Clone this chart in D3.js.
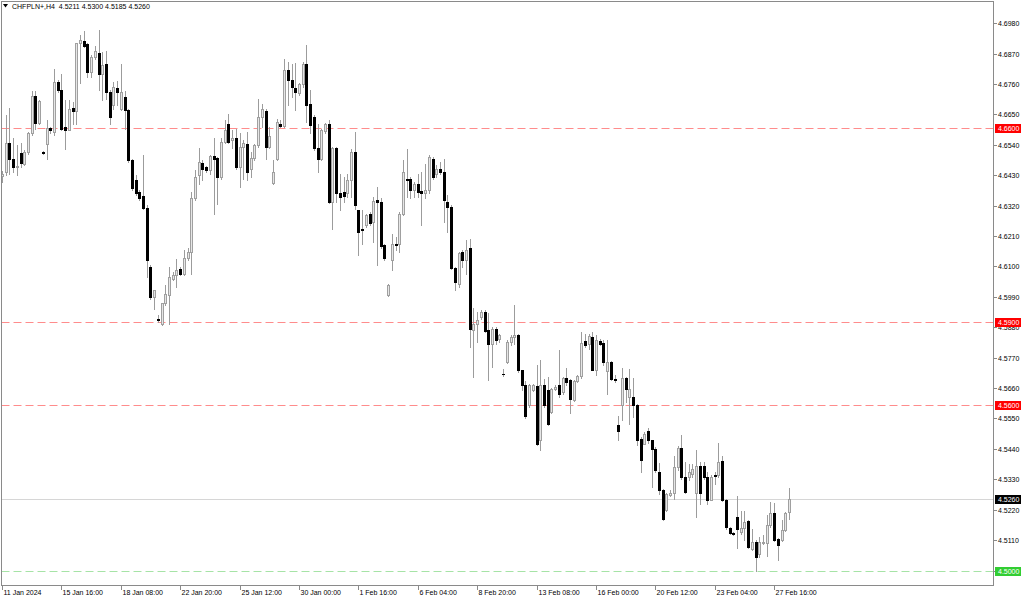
<!DOCTYPE html>
<html><head><meta charset="utf-8">
<script src="https://cdn.jsdelivr.net/npm/d3@7"></script>
<style>
html,body{margin:0;padding:0;background:#fff;}
svg{display:block;font-family:"Liberation Sans",Arial,sans-serif;}
</style></head>
<body>
<svg id="c" width="1024" height="599"></svg>
<script>
const open = [
4.6428,4.6442,4.6547,4.6490,4.6460,4.6511,4.6472,4.6514,4.6581,4.6716,
4.6619,4.6513,4.6542,4.6602,4.6587,4.6768,4.6738,4.6605,4.6595,4.6675,
4.6663,4.6907,4.6916,4.6904,4.6804,4.6858,4.6873,4.6795,4.6834,4.6732,
4.6683,4.6747,4.6671,4.6713,4.6665,4.6484,4.6412,4.6370,4.6354,4.6313,
4.6098,4.5990,4.5911,4.5893,4.5966,4.5996,4.6056,4.6068,4.6092,4.6074,
4.6132,4.6153,4.6346,4.6430,4.6475,4.6458,4.6448,4.6499,4.6494,4.6424,
4.6551,4.6617,4.6557,4.6563,4.6460,4.6533,4.6542,4.6454,4.6494,4.6539,
4.6641,4.6663,4.6533,4.6402,4.6490,4.6617,4.6607,4.6812,4.6774,4.6744,
4.6726,4.6759,4.6834,4.6687,4.6641,4.6527,4.6490,4.6590,4.6617,4.6334,
4.6527,4.6364,4.6370,4.6364,4.6412,4.6515,4.6303,4.6237,4.6249,4.6291,
4.6261,4.6340,4.6334,4.6177,4.5996,4.6123,4.6183,4.6180,4.6291,4.6418,
4.6415,4.6376,4.6400,4.6373,4.6364,4.6376,4.6490,4.6436,4.6454,4.6442,
4.6334,4.6316,4.6096,4.6038,4.6153,4.6123,4.6165,4.5871,4.5893,4.5917,
4.5935,4.5869,4.5818,4.5875,4.5839,4.5712,4.5755,4.5827,4.5845,4.5851,
4.5724,4.5670,4.5598,4.5652,4.5667,4.5471,4.5670,4.5652,4.5574,4.5658,
4.5670,4.5646,4.5698,4.5688,4.5618,4.5686,4.5703,4.5831,4.5818,4.5845,
4.5727,4.5831,4.5823,4.5722,4.5755,4.5694,4.5525,4.5597,4.5698,4.5628,
4.5628,4.5597,4.5477,4.5459,4.5504,4.5471,4.5441,4.5356,4.5292,4.5220,
4.5272,4.5280,4.5374,4.5444,4.5338,4.5338,4.5350,4.5280,4.5377,4.5377,
4.5338,4.5256,4.5344,4.5344,4.5396,4.5256,4.5155,4.5134,4.5193,4.5139,
4.5155,4.5179,4.5079,4.5103,4.5061,4.5099,4.5099,4.5163,4.5208,4.5115,
4.5109,4.5145,4.5211];
const high = [
4.6445,4.6647,4.6675,4.6563,4.6539,4.6547,4.6520,4.6587,4.6735,4.6735,
4.6701,4.6516,4.6631,4.6605,4.6816,4.6774,4.6795,4.6701,4.6701,4.6695,
4.6909,4.6937,4.6952,4.6907,4.6864,4.6897,4.6955,4.6876,4.6880,4.6738,
4.6768,4.6771,4.6832,4.6735,4.6671,4.6490,4.6430,4.6376,4.6502,4.6321,
4.6104,4.6016,4.5923,4.5968,4.6032,4.6098,4.6080,4.6128,4.6098,4.6159,
4.6165,4.6370,4.6448,4.6527,4.6484,4.6463,4.6502,4.6563,4.6496,4.6563,
4.6629,4.6653,4.6593,4.6599,4.6581,4.6557,4.6587,4.6514,4.6542,4.6707,
4.6689,4.6668,4.6605,4.6484,4.6635,4.6629,4.6849,4.6840,4.6834,4.6837,
4.6762,4.6840,4.6901,4.6738,4.6647,4.6617,4.6599,4.6619,4.6629,4.6533,
4.6533,4.6436,4.6424,4.6436,4.6526,4.6587,4.6306,4.6303,4.6291,4.6297,
4.6352,4.6388,4.6346,4.6183,4.6038,4.6217,4.6207,4.6297,4.6484,4.6526,
4.6424,4.6406,4.6436,4.6442,4.6472,4.6502,4.6496,4.6466,4.6478,4.6490,
4.6358,4.6322,4.6098,4.6153,4.6159,4.6195,4.6201,4.5948,4.5935,4.5941,
4.5941,4.5932,4.5881,4.5881,4.5857,4.5730,4.5833,4.5851,4.5960,4.5857,
4.5727,4.5686,4.5676,4.5676,4.5743,4.5761,4.5694,4.5700,4.5661,4.5670,
4.5799,4.5700,4.5734,4.5694,4.5690,4.5706,4.5863,4.5857,4.5857,4.5863,
4.5851,4.5839,4.5835,4.5833,4.5757,4.5706,4.5558,4.5734,4.5700,4.5730,
4.5698,4.5603,4.5483,4.5501,4.5517,4.5473,4.5447,4.5389,4.5296,4.5280,
4.5290,4.5416,4.5449,4.5489,4.5392,4.5386,4.5386,4.5435,4.5392,4.5392,
4.5356,4.5344,4.5356,4.5461,4.5416,4.5260,4.5157,4.5139,4.5268,4.5217,
4.5217,4.5181,4.5151,4.5109,4.5123,4.5127,4.5199,4.5248,4.5244,4.5118,
4.5181,4.5211,4.5300];
const low = [
4.6406,4.6430,4.6436,4.6442,4.6430,4.6460,4.6466,4.6508,4.6575,4.6599,
4.6617,4.6508,4.6487,4.6581,4.6575,4.6732,4.6593,4.6526,4.6593,4.6617,
4.6617,4.6762,4.6894,4.6786,4.6786,4.6849,4.6738,4.6701,4.6707,4.6617,
4.6671,4.6683,4.6665,4.6599,4.6478,4.6376,4.6360,4.6340,4.6309,4.6062,
4.5984,4.5947,4.5899,4.5887,4.5960,4.5890,4.6050,4.6026,4.6068,4.6068,
4.6122,4.6074,4.6340,4.6400,4.6412,4.6442,4.6436,4.6291,4.6327,4.6418,
4.6545,4.6545,4.6527,4.6454,4.6388,4.6418,4.6412,4.6424,4.6484,4.6533,
4.6605,4.6490,4.6527,4.6400,4.6484,4.6603,4.6603,4.6683,4.6714,4.6665,
4.6720,4.6750,4.6623,4.6581,4.6521,4.6442,4.6484,4.6581,4.6330,4.6237,
4.6334,4.6303,4.6334,4.6352,4.6352,4.6309,4.6141,4.6183,4.6243,4.6249,
4.6189,4.6104,4.6165,4.6123,4.5992,4.6086,4.6159,4.6153,4.6285,4.6352,
4.6346,4.6352,4.6352,4.6249,4.6346,4.6364,4.6418,4.6424,4.6436,4.6261,
4.6225,4.6092,4.6016,4.6026,4.6098,4.6074,4.5809,4.5700,4.5827,4.5911,
4.5863,4.5688,4.5737,4.5821,4.5827,4.5703,4.5749,4.5815,4.5821,4.5718,
4.5652,4.5550,4.5592,4.5650,4.5453,4.5435,4.5592,4.5525,4.5570,4.5654,
4.5628,4.5640,4.5670,4.5568,4.5613,4.5682,4.5698,4.5809,4.5803,4.5724,
4.5706,4.5815,4.5743,4.5640,4.5690,4.5682,4.5473,4.5545,4.5609,4.5531,
4.5555,4.5453,4.5356,4.5456,4.5461,4.5302,4.5356,4.5278,4.5183,4.5217,
4.5268,4.5260,4.5364,4.5332,4.5280,4.5328,4.5338,4.5193,4.5242,4.5332,
4.5242,4.5254,4.5314,4.5338,4.5251,4.5151,4.5133,4.5127,4.5082,4.5133,
4.5109,4.5083,4.5073,4.4998,4.5048,4.5097,4.5054,4.5159,4.5107,4.5039,
4.5107,4.5143,4.5185];
const close = [
4.6436,4.6547,4.6490,4.6460,4.6463,4.6475,4.6514,4.6581,4.6716,4.6619,
4.6699,4.6511,4.6602,4.6593,4.6768,4.6738,4.6599,4.6595,4.6671,4.6663,
4.6907,4.6921,4.6897,4.6804,4.6858,4.6880,4.6798,4.6828,4.6732,4.6641,
4.6750,4.6732,4.6732,4.6665,4.6484,4.6382,4.6364,4.6349,4.6313,4.6122,
4.5990,4.6014,4.5907,4.5966,4.6002,4.6062,4.6068,4.6086,4.6074,4.6132,
4.6153,4.6346,4.6424,4.6478,4.6454,4.6448,4.6499,4.6490,4.6424,4.6551,
4.6593,4.6551,4.6563,4.6460,4.6533,4.6547,4.6442,4.6494,4.6539,4.6641,
4.6668,4.6533,4.6571,4.6442,4.6623,4.6607,4.6810,4.6774,4.6750,4.6732,
4.6759,4.6834,4.6683,4.6611,4.6527,4.6490,4.6593,4.6617,4.6334,4.6527,
4.6364,4.6352,4.6354,4.6412,4.6515,4.6322,4.6225,4.6231,4.6285,4.6258,
4.6337,4.6334,4.6173,4.6129,4.6032,4.6180,4.6177,4.6291,4.6442,4.6412,
4.6376,4.6400,4.6370,4.6364,4.6376,4.6496,4.6424,4.6454,4.6442,4.6340,
4.6316,4.6096,4.6044,4.6147,4.6123,4.6159,4.5875,4.5893,4.5908,4.5935,
4.5867,4.5821,4.5875,4.5835,4.5851,4.5710,4.5827,4.5845,4.5851,4.5724,
4.5670,4.5558,4.5670,4.5670,4.5457,4.5670,4.5598,4.5531,4.5658,4.5664,
4.5640,4.5698,4.5682,4.5622,4.5686,4.5703,4.5823,4.5815,4.5848,4.5727,
4.5833,4.5818,4.5755,4.5755,4.5694,4.5690,4.5504,4.5698,4.5658,4.5658,
4.5597,4.5473,4.5398,4.5495,4.5471,4.5441,4.5362,4.5292,4.5187,4.5278,
4.5280,4.5374,4.5444,4.5338,4.5284,4.5356,4.5368,4.5377,4.5280,4.5338,
4.5256,4.5338,4.5342,4.5392,4.5254,4.5157,4.5135,4.5133,4.5151,4.5155,
4.5175,4.5085,4.5103,4.5048,4.5103,4.5103,4.5163,4.5208,4.5111,4.5091,
4.5145,4.5208,4.5260];

const timeLabels = ["11 Jan 2024","15 Jan 16:00","18 Jan 08:00","22 Jan 20:00","25 Jan 12:00","30 Jan 00:00","1 Feb 16:00","6 Feb 04:00","8 Feb 20:00","13 Feb 08:00","16 Feb 00:00","20 Feb 12:00","23 Feb 04:00","27 Feb 16:00"];
const timeLabelBars = [0,16,32,48,64,80,96,112,128,144,160,176,192,208];
const priceTicks = [4.5000,4.5110,4.5220,4.5330,4.5440,4.5550,4.5660,4.5770,4.5880,4.5990,4.6100,4.6210,4.6320,4.6430,4.6540,4.6650,4.6760,4.6870,4.6980];
const levelPrices = [4.6600,4.5900,4.5600,4.5000];
const levelKinds = ["red","red","red","green"];
const lastPrice = 4.5260;
const symbolTitle = "CHFPLN+,H4";

const svg = d3.select("#c");
const frame = {l:1.5, t:1.5, r:993.5, b:585.5};
const x = d3.scaleLinear().domain([0, open.length - 1]).range([2, 789]);
const y = d3.scaleLinear().domain([4.5000, 4.6980]).range([570.5, 23.2]);

const gPlot = svg.append("g");
const clipId = "clipPlot";
svg.append("clipPath").attr("id", clipId).append("rect")
  .attr("x", frame.l).attr("y", frame.t).attr("width", frame.r - frame.l).attr("height", frame.b - frame.t);
gPlot.attr("clip-path", `url(#${clipId})`);

// level lines
const levelColor = {red:"#ff8c8c", green:"#a6e3a6"};
gPlot.append("line").attr("x1", frame.l).attr("x2", frame.r)
  .attr("y1", Math.round(y(lastPrice)) + 0.5).attr("y2", Math.round(y(lastPrice)) + 0.5)
  .attr("stroke", "#d6d6d6").attr("stroke-width", 1);
levelPrices.forEach((p, i) => {
  const yy = Math.round(y(p)) + 0.5;
  gPlot.append("line").attr("x1", frame.l).attr("x2", frame.r)
    .attr("y1", yy).attr("y2", yy)
    .attr("stroke", levelColor[levelKinds[i]]).attr("stroke-width", 1)
    .attr("stroke-dasharray", "8,4");
});

// candles
const idx = d3.range(open.length);
const gC = gPlot.append("g").attr("shape-rendering", "crispEdges");
idx.forEach(i => {
  const cx = Math.round(x(i));
  const bull = close[i] >= open[i];
  gC.append("line")
    .attr("x1", cx + 0.5).attr("x2", cx + 0.5)
    .attr("y1", Math.round(y(high[i]))).attr("y2", Math.round(y(low[i])) + 1)
    .attr("stroke", "#9c9c9c").attr("stroke-width", 1);
  const yTop = Math.round(y(Math.max(open[i], close[i])));
  const yBot = Math.round(y(Math.min(open[i], close[i])));
  if (bull) {
    const h = Math.max(1, yBot - yTop);
    gC.append("rect").attr("x", cx - 0.5).attr("y", yTop + 0.5)
      .attr("width", 2).attr("height", h)
      .attr("fill", "#e6e6e6").attr("stroke", "#a0a0a0").attr("stroke-width", 1);
  } else {
    const h = Math.max(1, yBot - yTop + 1);
    gC.append("rect").attr("x", cx - 1).attr("y", yTop)
      .attr("width", 3).attr("height", h)
      .attr("fill", "#000");
  }
});

// frame
svg.append("rect").attr("x", frame.l - 0.5).attr("y", frame.t - 0.5)
  .attr("width", frame.r - frame.l + 0.5).attr("height", frame.b - frame.t + 0.5)
  .attr("fill", "none").attr("stroke", "#8a8a8a").attr("stroke-width", 1)
  .attr("shape-rendering", "crispEdges");

// right axis
const gY = svg.append("g").attr("font-size", "7px").attr("fill", "#000");
priceTicks.forEach(p => {
  const yy = Math.round(y(p)) + 0.5;
  gY.append("line").attr("x1", frame.r).attr("x2", frame.r + 3).attr("y1", yy).attr("y2", yy)
    .attr("stroke", "#8a8a8a").attr("shape-rendering", "crispEdges");
  gY.append("text").attr("x", 998).attr("y", yy + 2.5).text(p.toFixed(4));
});
// level labels
const labelFill = {red:"#ff0000", green:"#32cd32"};
function priceLabel(p, fill) {
  const yy = Math.round(y(p)) + 0.5;
  gY.append("rect").attr("x", 995).attr("y", yy - 4.5).attr("width", 26).attr("height", 9)
    .attr("fill", fill).attr("shape-rendering", "crispEdges");
  gY.append("text").attr("x", 998).attr("y", yy + 2.5).attr("fill", "#fff").text(p.toFixed(4));
}
levelPrices.forEach((p, i) => priceLabel(p, labelFill[levelKinds[i]]));
priceLabel(lastPrice, "#000");

// bottom axis
const gX = svg.append("g").attr("font-size", "7px").attr("fill", "#000");
timeLabelBars.forEach((b, i) => {
  const xx = Math.round(x(b)) + 0.5;
  gX.append("line").attr("x1", xx).attr("x2", xx).attr("y1", frame.b).attr("y2", frame.b + 4)
    .attr("stroke", "#8a8a8a").attr("shape-rendering", "crispEdges");
  gX.append("text").attr("x", xx + 1).attr("y", 595).text(timeLabels[i]);
});

// header
const last = open.length - 1;
svg.append("path").attr("d", "M3,4 L8,4 L5.5,7.5 Z").attr("fill", "#000");
svg.append("text").attr("x", 12).attr("y", 9).attr("font-size", "7px").attr("fill", "#000")
  .attr("xml:space", "preserve").style("white-space", "pre")
  .text(`${symbolTitle}  ${open[last].toFixed(4)} ${high[last].toFixed(4)} ${low[last].toFixed(4)} ${close[last].toFixed(4)}`);
</script>
</body></html>
